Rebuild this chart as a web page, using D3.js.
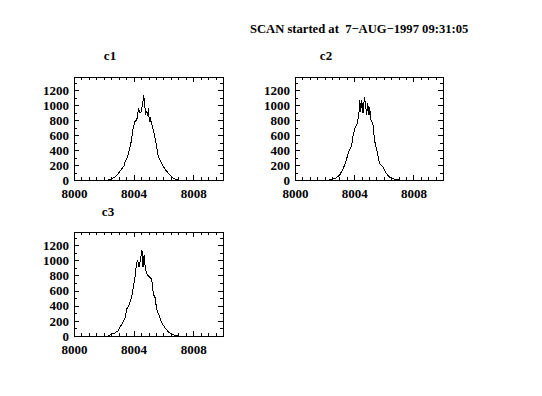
<!DOCTYPE html>
<html>
<head>
<meta charset="utf-8">
<script src="https://cdn.jsdelivr.net/npm/d3@7"></script>
<style>
  body { margin:0; background:#fff; }
  text { font-family: "Liberation Serif", "DejaVu Serif", serif; font-weight: bold; fill:#000; }
</style>
</head>
<body>
<div id="chart"></div>
<script>
// scan header
const scanTitle = "SCAN started at  7\u2212AUG\u22121997 09:31:05";

// channel names
const channels = ["c1", "c2", "c3"];

// counts vs energy as [energy, counts]
const c1 = [[8002.3,0],[8002.45,5],[8002.74,40],[8002.9,70],[8003.08,115],[8003.2,150],[8003.35,185],
  [8003.42,240],[8003.57,300],[8003.7,390],[8003.8,469],[8003.9,590],[8003.98,700],[8004.09,780],
  [8004.2,800],[8004.26,845],[8004.33,955],[8004.43,890],[8004.5,910],[8004.61,1022],[8004.68,1133],
  [8004.75,1000],[8004.8,880],[8004.88,910],[8004.93,860],[8005.0,955],[8005.04,820],[8005.1,770],
  [8005.13,840],[8005.18,780],[8005.32,668],[8005.44,558],[8005.55,446],[8005.66,314],[8005.77,270],
  [8005.88,220],[8006.0,180],[8006.12,140],[8006.23,114],[8006.35,85],[8006.45,62],[8006.57,38],
  [8006.68,20],[8006.9,5],[8007.05,0]];

const c2 = [[8002.3,0],[8002.45,5],[8002.7,20],[8002.9,45],[8003.03,71],[8003.2,130],[8003.37,204],
  [8003.5,290],[8003.6,359],[8003.72,420],[8003.82,447],[8003.9,560],[8003.94,602],[8004.04,690],
  [8004.2,757],[8004.31,868],[8004.38,1067],[8004.44,912],[8004.51,1067],[8004.6,890],[8004.69,1111],
  [8004.78,978],[8004.84,868],[8004.91,1022],[8005.0,868],[8005.04,978],[8005.13,801],[8005.26,757],
  [8005.37,536],[8005.45,460],[8005.53,403],[8005.62,310],[8005.71,226],[8005.8,200],[8005.93,181],
  [8006.05,130],[8006.16,93],[8006.27,60],[8006.38,40],[8006.55,22],[8006.72,13],[8006.95,4],[8007.1,0]];

const c3 = [[8002.3,0],[8002.45,18],[8002.74,40],[8002.97,71],[8003.19,152],[8003.42,232],[8003.53,352],
  [8003.71,419],[8003.87,508],[8003.98,642],[8004.09,776],[8004.2,954],[8004.27,999],[8004.36,910],
  [8004.47,1021],[8004.56,1133],[8004.63,910],[8004.7,1066],[8004.79,888],[8004.88,820],[8004.99,798],
  [8005.21,754],[8005.33,553],[8005.44,508],[8005.55,352],[8005.73,263],[8005.89,174],[8006.11,107],
  [8006.34,54],[8006.56,27],[8006.79,9],[8007.0,0]];

const series = [c1, c2, c3];

// axis ranges and ticks
const xDomain = [8000, 8010];
const yDomain = [0, 1375];
const xMajor = [8000, 8004, 8008];
const xMinorStep = 0.5;
const yMajor = [0, 200, 400, 600, 800, 1000, 1200];
const yMinorStep = 100;

const width = 542, height = 396;

// panel boxes
const panels = [
  {left:74,  right:223, top:77,  bottom:180, tx:110, ty:60},
  {left:295, right:443, top:77,  bottom:180, tx:326, ty:60},
  {left:74,  right:223, top:232, bottom:336, tx:108, ty:216}
];

const svg = d3.select("#chart").append("svg")
  .attr("width", width).attr("height", height);

svg.append("rect").attr("width", width).attr("height", height).attr("fill", "#fff");

svg.append("text")
  .attr("x", 250).attr("y", 33)
  .attr("font-size", 12.6)
  .style("white-space", "pre")
  .text(scanTitle);

panels.forEach((p, i) => {
  const x = d3.scaleLinear().domain(xDomain).range([p.left, p.right]);
  const y = d3.scaleLinear().domain(yDomain).range([p.bottom, p.top]);
  const g = svg.append("g");

  const xMinor = d3.range(xDomain[0], xDomain[1] + 1e-9, xMinorStep).filter(v => !xMajor.includes(v));
  const yMinor = d3.range(yDomain[0], yDomain[1], yMinorStep).filter(v => !yMajor.includes(v));

  // bottom / left with labels, top / right plain
  g.append("g").attr("transform", `translate(0,${p.bottom})`)
    .call(d3.axisBottom(x).tickValues(xMajor).tickSize(-5).tickPadding(9).tickFormat(d3.format("d")));
  g.append("g").attr("transform", `translate(0,${p.bottom})`)
    .call(d3.axisBottom(x).tickValues(xMinor).tickSize(-3).tickFormat(""));
  g.append("g").attr("transform", `translate(0,${p.top})`)
    .call(d3.axisTop(x).tickValues(xMajor).tickSize(-5).tickFormat(""));
  g.append("g").attr("transform", `translate(0,${p.top})`)
    .call(d3.axisTop(x).tickValues(xMinor).tickSize(-3).tickFormat(""));

  g.append("g").attr("transform", `translate(${p.left},0)`)
    .call(d3.axisLeft(y).tickValues(yMajor).tickSize(-5).tickPadding(5).tickFormat(d3.format("d")));
  g.append("g").attr("transform", `translate(${p.left},0)`)
    .call(d3.axisLeft(y).tickValues(yMinor).tickSize(-3).tickFormat(""));
  g.append("g").attr("transform", `translate(${p.right},0)`)
    .call(d3.axisRight(y).tickValues(yMajor).tickSize(-5).tickFormat(""));
  g.append("g").attr("transform", `translate(${p.right},0)`)
    .call(d3.axisRight(y).tickValues(yMinor).tickSize(-3).tickFormat(""));

  g.selectAll(".domain").remove();
  g.selectAll(".tick line").attr("stroke", "#000").attr("shape-rendering", "crispEdges");
  g.selectAll(".tick text")
    .attr("font-family", "Liberation Serif, serif")
    .attr("font-weight", "bold")
    .attr("font-size", 13)
    .attr("fill", "#000");

  g.append("rect")
    .attr("x", p.left + 0.5).attr("y", p.top + 0.5)
    .attr("width", p.right - p.left).attr("height", p.bottom - p.top)
    .attr("fill", "none").attr("stroke", "#000").attr("shape-rendering", "crispEdges");

  const line = d3.line().x(d => x(d[0])).y(d => y(d[1]));
  g.append("path")
    .attr("d", line(series[i]))
    .attr("fill", "none").attr("stroke", "#000").attr("stroke-width", 1)
    .attr("shape-rendering", "crispEdges");

  svg.append("text")
    .attr("x", p.tx).attr("y", p.ty)
    .attr("text-anchor", "middle")
    .attr("font-size", 13)
    .text(channels[i]);
});
</script>
</body>
</html>
